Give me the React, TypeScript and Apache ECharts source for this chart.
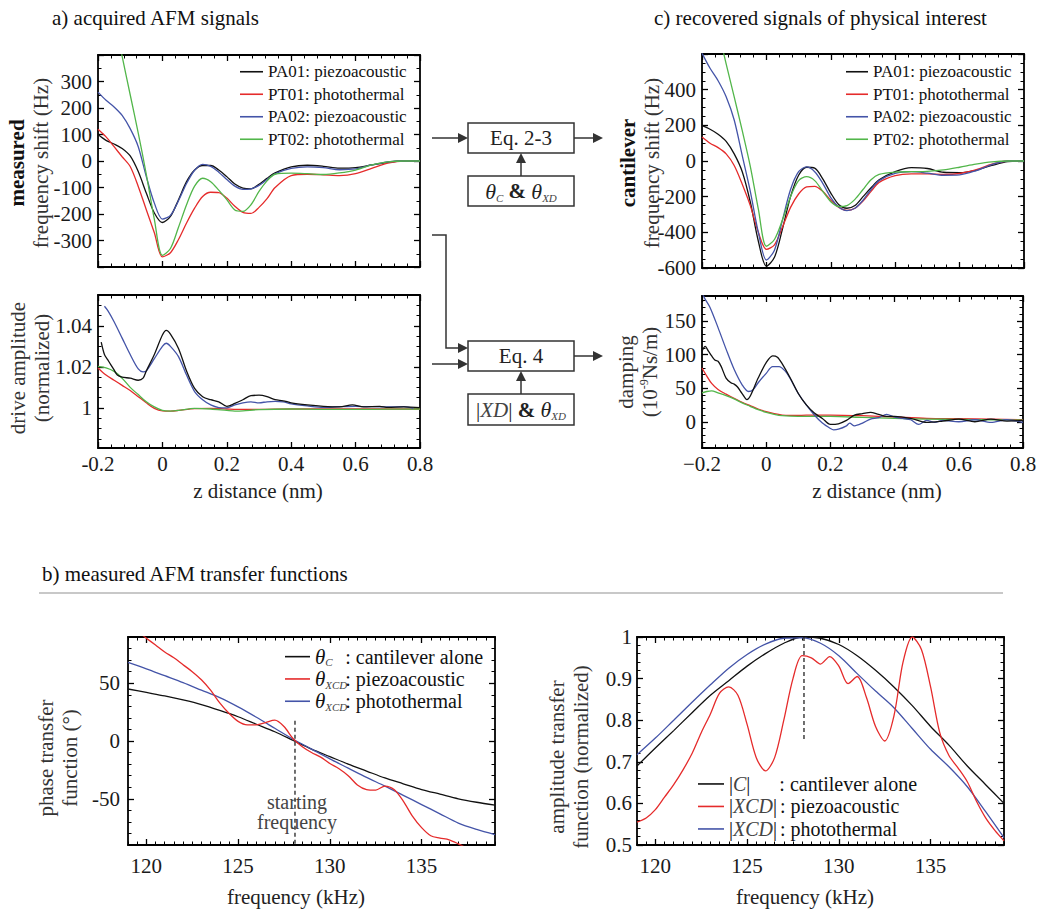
import React, { useEffect, useRef } from "react";
import * as echarts from "echarts";

const SERIF = '"Liberation Serif", "Times New Roman", "DejaVu Serif", serif';
const INK = "#111111";
const RED = "#e52b2b";
const BLUE = "#4454a8";
const GREEN = "#52b64a";

// ---------- panel a/c: z distance samples (nm)
const zTop = [-0.2, -0.175, -0.15, -0.125, -0.1, -0.075, -0.05, -0.025, 0, 0.025, 0.05, 0.075, 0.1, 0.125, 0.15, 0.175, 0.2, 0.225, 0.25, 0.275, 0.3, 0.325, 0.35, 0.4, 0.45, 0.5, 0.55, 0.6, 0.65, 0.7, 0.75, 0.8];

// measured frequency shift (Hz)
const measPA01 = [100, 78, 64, 47, 19, -40, -121, -196, -232, -209, -146, -78, -34, -17, -17, -34, -59, -87, -102, -105, -88, -65, -45, -22, -16, -20, -27, -25, -15, -5, 0, 0];
const measPT01 = [120, 91, 54, 16, -21, -96, -184, -271, -362, -346, -296, -234, -178, -134, -118, -119, -140, -171, -194, -198, -175, -142, -100, -55, -50, -52, -55, -48, -28, -8, 0, 0];
const measPA02 = [260, 229, 204, 172, 122, 54, -59, -159, -219, -205, -150, -85, -35, -13, -20, -42, -70, -95, -107, -105, -92, -70, -48, -28, -22, -25, -33, -30, -15, -3, 0, 0];
const measPT02 = [850, 700, 545, 395, 250, 105, -50, -220, -356, -330, -250, -165, -95, -65, -78, -110, -146, -185, -190, -165, -115, -75, -50, -46, -48, -51, -45, -34, -15, -3, 0, 0];

// cantilever frequency shift (Hz)
const cantPA01 = [198, 178, 150, 110, 40, -60, -230, -450, -590, -540, -380, -200, -80, -35, -40, -100, -180, -245, -265, -250, -200, -150, -106, -60, -37, -42, -63, -65, -52, -25, -3, 0];
const cantPT01 = [135, 100, 75, 40, -25, -130, -250, -400, -495, -470, -370, -260, -185, -145, -142, -170, -220, -260, -277, -265, -225, -170, -120, -82, -72, -72, -75, -70, -50, -18, 0, 0];
const cantPA02 = [605, 520, 450, 360, 230, 30, -170, -400, -555, -500, -330, -160, -60, -33, -60, -125, -205, -258, -278, -265, -220, -160, -110, -70, -60, -68, -80, -78, -55, -20, 0, 0];
const cantPT02 = [1150, 960, 740, 545, 360, 170, -30, -270, -478, -440, -330, -200, -110, -88, -110, -170, -228, -255, -250, -215, -160, -105, -75, -62, -60, -58, -50, -35, -18, -5, 0, 0];

// drive amplitude (normalized), [z, value]
const drivePA01 = [[-0.19, 1.032], [-0.18, 1.026], [-0.17, 1.0235], [-0.16, 1.021], [-0.15, 1.0185], [-0.14, 1.016], [-0.125, 1.015], [-0.1, 1.0145], [-0.075, 1.0135], [-0.06, 1.0145], [-0.05, 1.018], [-0.025, 1.026], [0, 1.0355], [0.012, 1.0378], [0.025, 1.036], [0.05, 1.029], [0.075, 1.018], [0.1, 1.0095], [0.125, 1.0055], [0.15, 1.004], [0.175, 1.003], [0.2, 1.0008], [0.225, 1.0022], [0.25, 1.004], [0.275, 1.006], [0.3, 1.0062], [0.325, 1.0055], [0.35, 1.004], [0.375, 1.0035], [0.4, 1.0025], [0.45, 1.0015], [0.5, 1.0008], [0.55, 1.0005], [0.59, 1.0015], [0.625, 1.0005], [0.675, 1.0008], [0.7, 1.0003], [0.75, 1.0005], [0.8, 1.0002]];
const drivePT01 = [[-0.2, 1.0195], [-0.175, 1.016], [-0.15, 1.0135], [-0.125, 1.011], [-0.1, 1.0085], [-0.075, 1.0055], [-0.05, 1.0025], [-0.025, 0.9998], [0, 0.9986], [0.025, 0.9985], [0.05, 0.9988], [0.1, 0.9997], [0.15, 0.9998], [0.2, 0.9995], [0.25, 0.9993], [0.3, 0.9993], [0.4, 0.9995], [0.5, 0.9995], [0.6, 0.9995], [0.7, 0.9995], [0.8, 0.9995]];
const drivePA02 = [[-0.18, 1.0495], [-0.17, 1.0475], [-0.15, 1.042], [-0.125, 1.034], [-0.1, 1.026], [-0.075, 1.019], [-0.06, 1.0176], [-0.05, 1.018], [-0.025, 1.024], [0, 1.03], [0.012, 1.0315], [0.025, 1.03], [0.05, 1.025], [0.075, 1.016], [0.1, 1.008], [0.125, 1.004], [0.15, 1.0015], [0.175, 1.0002], [0.2, 1.0], [0.225, 1.0015], [0.25, 1.0025], [0.275, 1.003], [0.3, 1.0025], [0.325, 1.003], [0.35, 1.0032], [0.375, 1.003], [0.4, 1.002], [0.45, 1.001], [0.5, 1.0003], [0.55, 1.0006], [0.6, 1.0008], [0.65, 1.0006], [0.7, 1.0005], [0.75, 1.0006], [0.78, 0.9998]];
const drivePT02 = [[-0.2, 1.0202], [-0.175, 1.0195], [-0.15, 1.0178], [-0.125, 1.0145], [-0.1, 1.01], [-0.075, 1.0065], [-0.05, 1.003], [-0.025, 1.0005], [0, 0.9988], [0.025, 0.9985], [0.05, 0.9988], [0.1, 0.9998], [0.15, 0.9995], [0.2, 0.9988], [0.225, 0.9985], [0.25, 0.9986], [0.3, 0.9992], [0.4, 0.9995], [0.5, 0.9993], [0.6, 0.9993], [0.7, 0.9994], [0.8, 0.9995]];

// damping (1e-9 Ns/m), [z, value]
const dampPA01 = [[-0.2, 105], [-0.19, 112], [-0.18, 105], [-0.17, 98], [-0.16, 92], [-0.15, 90], [-0.14, 82], [-0.125, 65], [-0.11, 58], [-0.1, 56], [-0.09, 52], [-0.075, 42], [-0.06, 33], [-0.05, 38], [-0.025, 65], [0, 88], [0.02, 98], [0.035, 96], [0.05, 86], [0.075, 65], [0.1, 42], [0.125, 25], [0.15, 13], [0.175, 5], [0.2, -4], [0.225, -3], [0.25, 2], [0.275, 10], [0.3, 12], [0.325, 14], [0.35, 11], [0.375, 8], [0.4, 8], [0.45, 5], [0.5, -1], [0.55, 1], [0.6, 4], [0.65, 0], [0.7, 4], [0.75, 1], [0.8, 2]];
const dampPT01 = [[-0.2, 80], [-0.185, 68], [-0.17, 57], [-0.15, 48], [-0.125, 41], [-0.1, 35], [-0.075, 29], [-0.05, 24], [-0.025, 19], [0, 15], [0.025, 12], [0.05, 10], [0.075, 9.5], [0.1, 9.5], [0.15, 10], [0.2, 10], [0.3, 9], [0.4, 7], [0.5, 5], [0.6, 4.5], [0.7, 4], [0.8, 3]];
const dampPA02 = [[-0.2, 192], [-0.19, 182], [-0.175, 170], [-0.15, 140], [-0.125, 108], [-0.1, 78], [-0.075, 55], [-0.055, 45], [-0.04, 48], [-0.025, 58], [0, 72], [0.02, 82], [0.04, 82], [0.06, 75], [0.075, 64], [0.1, 42], [0.125, 25], [0.15, 10], [0.175, -2], [0.2, -10], [0.21, -12], [0.225, -11], [0.25, -6], [0.26, -2], [0.275, -6], [0.3, -2], [0.325, 4], [0.35, 6], [0.375, 11], [0.4, 7], [0.425, 5], [0.45, 3], [0.475, -4], [0.5, 2], [0.525, -1], [0.55, 2], [0.6, 0], [0.65, 3], [0.7, -1], [0.75, 3], [0.8, -1]];
const dampPT02 = [[-0.2, 43], [-0.185, 45], [-0.17, 46], [-0.15, 43], [-0.125, 39], [-0.1, 34], [-0.075, 28], [-0.05, 23], [-0.025, 18], [0, 14], [0.025, 11], [0.05, 9], [0.1, 8], [0.15, 8], [0.2, 8], [0.3, 6.5], [0.4, 5], [0.5, 4], [0.6, 3.5], [0.7, 3], [0.8, 2.5]];

// ---------- panel b: frequency (kHz)
const fInt = [119, 120, 121, 122, 123, 124, 125, 126, 127, 128, 129, 130, 131, 132, 133, 134, 135, 136, 137, 138, 139];
const fHalf = [119, 119.5, 120, 120.5, 121, 121.5, 122, 122.5, 123, 123.5, 124, 124.5, 125, 125.5, 126, 126.5, 127, 127.5, 128, 128.5, 129, 129.5, 130, 130.5, 131, 131.5, 132, 132.5, 133, 133.5, 134, 134.5, 135, 135.5, 136, 136.5, 137, 137.5, 138, 138.5, 139];

const phaseC = [45, 42, 39, 35.5, 31.5, 26.5, 21, 14.5, 8, 0.5, -7, -13.5, -20, -26, -32, -37, -42, -46, -50, -53, -55.5];
const phasePT = [68, 62.5, 56.5, 50.5, 44, 37.5, 29.5, 20.5, 11, 1.5, -7, -15.5, -23.5, -31.5, -39, -47, -55, -63, -71, -76.5, -81];
const phasePA = [100, 95, 89, 83, 77, 72, 66, 60, 53, 44, 33, 24, 17, 14, 14, 16, 18, 12.5, 2, -5, -10, -14, -19.5, -24, -30, -38, -42, -42.5, -39, -42, -52, -65, -75, -82, -84, -85.5, -89, -93, -96, -98, -100];

const ampC = [0.69, 0.733, 0.775, 0.818, 0.86, 0.895, 0.93, 0.96, 0.985, 1.0, 0.997, 0.982, 0.955, 0.92, 0.88, 0.835, 0.785, 0.74, 0.69, 0.645, 0.6];
const ampPT = [0.717, 0.757, 0.8, 0.843, 0.885, 0.925, 0.958, 0.983, 0.997, 0.998, 0.985, 0.955, 0.912, 0.87, 0.83, 0.78, 0.73, 0.688, 0.64, 0.58, 0.518];
const ampPA = [0.555, 0.565, 0.585, 0.615, 0.645, 0.68, 0.72, 0.77, 0.815, 0.865, 0.88, 0.86, 0.79, 0.71, 0.678, 0.71, 0.8, 0.9, 0.955, 0.95, 0.935, 0.953, 0.93, 0.888, 0.905, 0.855, 0.785, 0.75, 0.81, 0.94, 1.0, 0.97, 0.88, 0.77, 0.715, 0.685, 0.652, 0.605, 0.565, 0.535, 0.51];

const startFreq = 128.1;
const phaseMarker = [[startFreq, 17.5], [startFreq, -90]];
const ampMarker = [[startFreq, 1.0], [startFreq, 0.755]];

// tick values
const zMajor = [-0.2, 0, 0.2, 0.4, 0.6, 0.8];
const measMajor = [-400, -300, -200, -100, 0, 100, 200, 300, 400];
const measLabels = [-300, -200, -100, 0, 100, 200, 300];
const cantMajor = [-600, -400, -200, 0, 200, 400, 600];
const cantLabels = [-600, -400, -200, 0, 200, 400];
const driveMajor = [1, 1.02, 1.04];
const dampMajor = [0, 50, 100, 150];
const fMajor = [120, 125, 130, 135];
const phaseMajor = [-50, 0, 50];
const ampMajor = [0.5, 0.6, 0.7, 0.8, 0.9, 1];

type Spec = { min: number; max: number; major: number[]; minorStep: number; labels?: number[]; fmt?: (v: number) => string; margin?: number };

function stepTicks(min: number, max: number, step: number): number[] {
  const out: number[] = [];
  const start = Math.ceil(min / step - 1e-9);
  const end = Math.floor(max / step + 1e-9);
  for (let k = start; k <= end; k++) out.push(Math.round(k * step * 1e6) / 1e6);
  return out;
}

function axes(dim: "x" | "y", grid: number, s: Spec): any[] {
  const p0 = dim === "x" ? "bottom" : "left";
  const p1 = dim === "x" ? "top" : "right";
  const common = { type: "value", gridIndex: grid, min: s.min, max: s.max, splitLine: { show: false }, splitArea: { show: false }, axisPointer: { show: false } };
  const frame = { show: true, onZero: false, lineStyle: { color: "#000", width: 1.8 } };
  const major = s.major.filter((v) => v >= s.min - 1e-9 && v <= s.max + 1e-9);
  const minor = stepTicks(s.min, s.max, s.minorStep);
  const majTick = { show: true, inside: true, length: 6, customValues: major, lineStyle: { color: "#000", width: 1.3 } };
  const minTick = { show: true, inside: true, length: 3.5, customValues: minor, lineStyle: { color: "#000", width: 1 } };
  const noLabel = { show: false };
  let label: any = noLabel;
  if (s.labels) {
    label = { show: true, customValues: s.labels, fontFamily: SERIF, fontSize: 21, color: "#1a1a1a", margin: s.margin ?? 6 };
    if (s.fmt) label.formatter = s.fmt;
  }
  return [
    { ...common, position: p0, axisLine: frame, axisTick: majTick, axisLabel: label },
    { ...common, position: p0, axisLine: { show: false, onZero: false }, axisTick: minTick, axisLabel: noLabel },
    { ...common, position: p1, axisLine: frame, axisTick: majTick, axisLabel: noLabel },
    { ...common, position: p1, axisLine: { show: false, onZero: false }, axisTick: minTick, axisLabel: noLabel },
  ];
}

const minusFmt = (v: number) => (v < 0 ? "\u2212" + String(-v) : String(v));

function line(name: string, color: string, data: number[][], g: number, extra: any = {}) {
  return {
    type: "line", name, data, xAxisIndex: 4 * g, yAxisIndex: 4 * g,
    showSymbol: false, symbol: "none", smooth: 0.3, clip: true, color,
    itemStyle: { color }, lineStyle: { color, width: 1.3 }, emphasis: { disabled: true }, ...extra,
  };
}
const pairs = (xs: number[], ys: number[]) => xs.map((x, i) => [x, ys[i]]);

function txt(text: string, x: number, y: number, extra: any = {}) {
  return { type: "text", x, y, z: 50, style: { text, fontFamily: SERIF, fontSize: 21, fill: INK, align: "left", verticalAlign: "middle", ...extra } };
}
function vtxt(text: string, x: number, y: number, rich: any) {
  return { type: "text", x, y, rotation: Math.PI / 2, z: 50, style: { text, fontFamily: SERIF, fontSize: 21, fill: "#333", align: "center", verticalAlign: "middle", rich } };
}
const AR = "#333333";
function hArrow(x1: number, y: number, x2: number) {
  return [
    { type: "line", z: 50, shape: { x1, y1: y, x2: x2 - 9, y2: y }, style: { stroke: AR, lineWidth: 1.5 } },
    { type: "polygon", z: 50, shape: { points: [[x2 - 10, y - 5], [x2, y], [x2 - 10, y + 5]] }, style: { fill: AR } },
  ];
}
function upArrow(x: number, yFrom: number, yTo: number) {
  return [
    { type: "line", z: 50, shape: { x1: x, y1: yFrom, x2: x, y2: yTo + 9 }, style: { stroke: AR, lineWidth: 1.5 } },
    { type: "polygon", z: 50, shape: { points: [[x - 5, yTo + 10], [x, yTo], [x + 5, yTo + 10]] }, style: { fill: AR } },
  ];
}
function box(x: number, y: number, w: number, h: number) {
  return { type: "rect", z: 50, shape: { x, y, width: w, height: h }, style: { fill: "transparent", stroke: AR, lineWidth: 1.5 } };
}

const nameRich = {
  b: { fontWeight: "bold", fontSize: 21, fontFamily: SERIF, fill: INK, lineHeight: 24 },
  n: { fontSize: 21, fontFamily: SERIF, fill: "#333", lineHeight: 24 },
  sup: { fontSize: 12, fontFamily: SERIF, fill: "#333", lineHeight: 10, verticalAlign: "top" },
};
const mathRich = {
  e: { fontSize: 21, fontFamily: SERIF, fill: "#222", lineHeight: 24 },
  th: { fontStyle: "italic", fontSize: 22, fontFamily: SERIF, fill: "#222", lineHeight: 24 },
  sb: { fontStyle: "italic", fontSize: 11, fontFamily: SERIF, fill: "#444", lineHeight: 10, verticalAlign: "bottom" },
  amp: { fontWeight: "bold", fontSize: 21, fontFamily: SERIF, fill: "#222", lineHeight: 24 },
  cal: { fontStyle: "italic", fontSize: 21, fontFamily: SERIF, fill: "#444", lineHeight: 24 },
};

const topLegendNames = ["PA01: piezoacoustic", "PT01: photothermal", "PA02: piezoacoustic", "PT02: photothermal"];
const phaseLegend: Record<string, string> = {
  thC: "{th|\u03b8}{sb|C}: cantilever alone",
  thPA: "{th|\u03b8}{sb|XCD}: piezoacoustic",
  thPT: "{th|\u03b8}{sb|XCD}: photothermal",
};
const ampLegend: Record<string, string> = {
  ampC: "{bar||}{cal|C}{bar||}{g1| }: cantilever alone",
  ampPA: "{bar||}{cal|XCD}{bar||}{g2| }: piezoacoustic",
  ampPT: "{bar||}{cal|XCD}{bar||}{g2| }: photothermal",
};

function buildOption(): any {
  const grids = [
    { left: 98, top: 55, width: 322, height: 212 },
    { left: 98, top: 295, width: 322, height: 153 },
    { left: 702, top: 54, width: 322, height: 214 },
    { left: 702, top: 296, width: 321, height: 152 },
    { left: 128, top: 637, width: 367, height: 208 },
    { left: 637, top: 637, width: 367, height: 208 },
  ].map((g) => ({ ...g, containLabel: false, outerBoundsMode: "none", show: false }));

  const zTopSpec: Spec = { min: -0.2, max: 0.8, major: zMajor, minorStep: 0.04 };
  const xAxis = [
    ...axes("x", 0, zTopSpec),
    ...axes("x", 1, { ...zTopSpec, labels: zMajor, margin: 5 }),
    ...axes("x", 2, zTopSpec),
    ...axes("x", 3, { ...zTopSpec, labels: zMajor, margin: 5, fmt: minusFmt }),
    ...axes("x", 4, { min: 119, max: 139, major: fMajor, minorStep: 0.5, labels: fMajor, margin: 10 }),
    ...axes("x", 5, { min: 119, max: 139, major: fMajor, minorStep: 0.5, labels: fMajor, margin: 10 }),
  ];
  const yAxis = [
    ...axes("y", 0, { min: -400, max: 400, major: measMajor, minorStep: 50, labels: measLabels }),
    ...axes("y", 1, { min: 0.9805, max: 1.055, major: driveMajor, minorStep: 0.005, labels: driveMajor }),
    ...axes("y", 2, { min: -600, max: 600, major: cantMajor, minorStep: 50, labels: cantLabels }),
    ...axes("y", 3, { min: -39, max: 187, major: dampMajor, minorStep: 10, labels: dampMajor }),
    ...axes("y", 4, { min: -90, max: 90, major: phaseMajor, minorStep: 10, labels: phaseMajor, margin: 8 }),
    ...axes("y", 5, { min: 0.5, max: 1, major: ampMajor, minorStep: 0.02, labels: ampMajor, margin: 5 }),
  ];

  const series = [
    line("PA01: piezoacoustic", INK, pairs(zTop, measPA01), 0),
    line("PT01: photothermal", RED, pairs(zTop, measPT01), 0),
    line("PA02: piezoacoustic", BLUE, pairs(zTop, measPA02), 0),
    line("PT02: photothermal", GREEN, pairs(zTop, measPT02), 0),

    line("drive PT01", RED, drivePT01, 1),
    line("drive PT02", GREEN, drivePT02, 1),
    line("drive PA02", BLUE, drivePA02, 1),
    line("drive PA01", INK, drivePA01, 1),

    line("PA01: piezoacoustic", INK, pairs(zTop, cantPA01), 2),
    line("PT01: photothermal", RED, pairs(zTop, cantPT01), 2),
    line("PA02: piezoacoustic", BLUE, pairs(zTop, cantPA02), 2),
    line("PT02: photothermal", GREEN, pairs(zTop, cantPT02), 2),

    line("damp PT01", RED, dampPT01, 3),
    line("damp PT02", GREEN, dampPT02, 3),
    line("damp PA02", BLUE, dampPA02, 3),
    line("damp PA01", INK, dampPA01, 3),

    line("thC", INK, pairs(fInt, phaseC), 4),
    line("thPT", BLUE, pairs(fInt, phasePT), 4),
    line("thPA", RED, pairs(fHalf, phasePA), 4),
    line("phase start", "#222", phaseMarker, 4, { smooth: false, lineStyle: { color: "#222", width: 1.3, type: [4, 3] } }),

    line("ampC", INK, pairs(fInt, ampC), 5),
    line("ampPT", BLUE, pairs(fInt, ampPT), 5),
    line("ampPA", RED, pairs(fHalf, ampPA), 5),
    line("amp start", "#222", ampMarker, 5, { smooth: false, lineStyle: { color: "#222", width: 1.3, type: [4, 3] } }),
  ];

  const legBase = { orient: "vertical", icon: "rect", itemHeight: 1.6, itemGap: 0, padding: 0, selectedMode: false };
  const legend = [
    { ...legBase, data: topLegendNames, left: 240, top: 60.5, itemWidth: 23, textStyle: { fontFamily: SERIF, fontSize: 17, color: INK, lineHeight: 22.5 } },
    { ...legBase, data: topLegendNames, left: 846, top: 60.5, itemWidth: 22, textStyle: { fontFamily: SERIF, fontSize: 17, color: INK, lineHeight: 22.5 } },
    {
      ...legBase, data: ["thC", "thPA", "thPT"], left: 285, top: 645.5, itemWidth: 25,
      formatter: (n: string) => phaseLegend[n],
      textStyle: {
        fontFamily: SERIF, fontSize: 20, color: INK, lineHeight: 22.3,
        rich: {
          th: { fontStyle: "italic", fontSize: 21, fontFamily: SERIF, color: INK, lineHeight: 22.3 },
          sb: { fontStyle: "italic", fontSize: 11, fontFamily: SERIF, color: "#444", lineHeight: 10, verticalAlign: "bottom", width: 20 },
        },
      },
    },
    {
      ...legBase, data: ["ampC", "ampPA", "ampPT"], left: 698, top: 772.7, itemWidth: 26,
      formatter: (n: string) => ampLegend[n],
      textStyle: {
        fontFamily: SERIF, fontSize: 20, color: INK, lineHeight: 22.5,
        rich: {
          bar: { fontSize: 20, fontFamily: SERIF, color: INK, lineHeight: 22.5 },
          cal: { fontStyle: "italic", fontSize: 20, fontFamily: SERIF, color: "#444", lineHeight: 22.5 },
          g1: { width: 29, lineHeight: 22.5 },
          g2: { width: 3, lineHeight: 22.5 },
        },
      },
    },
  ];

  const graphic = [
    txt("a) acquired AFM signals", 52, 18),
    txt("c) recovered signals of physical interest", 654, 18),
    txt("b) measured AFM transfer functions", 42, 574),
    { type: "line", z: 40, shape: { x1: 39, y1: 593, x2: 1003, y2: 593 }, style: { stroke: "#c8c8c8", lineWidth: 2 } },

    vtxt("{b|measured}\n{n|frequency shift (Hz)}", 29, 163, nameRich),
    vtxt("{n|drive amplitude}\n{n|(normalized)}", 30, 368, nameRich),
    vtxt("{b|cantilever}\n{n|frequency shift (Hz)}", 640, 163, nameRich),
    vtxt("{n|damping}\n{n|(10}{sup|-9}{n|Ns/m)}", 637.5, 372, nameRich),
    vtxt("{n|phase transfer}\n{n|function (\u00b0)}", 58, 758, nameRich),
    vtxt("{n|amplitude transfer}\n{n|function (normalized)}", 568.5, 757, nameRich),

    txt("z distance (nm)", 258, 491, { align: "center", fill: "#222" }),
    txt("z distance (nm)", 877, 491, { align: "center", fill: "#222" }),
    txt("frequency (kHz)", 296, 897, { align: "center", fill: "#222" }),
    txt("frequency (kHz)", 805, 897, { align: "center", fill: "#222" }),

    txt("starting", 297, 802, { align: "center", fontSize: 20, fill: "#444" }),
    txt("frequency", 297, 822, { align: "center", fontSize: 20, fill: "#444" }),

    // flow chart
    ...hArrow(432, 138, 468),
    box(468, 123, 106, 30),
    txt("Eq. 2-3", 521, 138, { align: "center", fill: "#222" }),
    ...hArrow(574, 138, 603),
    box(468, 176, 106, 30),
    { type: "text", x: 521, y: 191, z: 50, style: { text: "{th|\u03b8}{sb|C} {amp|&} {th|\u03b8}{sb|XD}", align: "center", verticalAlign: "middle", fontFamily: SERIF, fontSize: 21, fill: "#222", rich: mathRich } },
    ...upArrow(521, 176, 153),

    { type: "polyline", z: 50, shape: { points: [[432, 235], [446, 235], [446, 348], [459, 348]] }, style: { stroke: AR, lineWidth: 1.5, fill: "none" } },
    { type: "polygon", z: 50, shape: { points: [[458, 343], [468, 348], [458, 353]] }, style: { fill: AR } },
    ...hArrow(432, 364, 468),
    box(468, 341, 106, 30),
    txt("Eq. 4", 521, 356, { align: "center", fill: "#222" }),
    ...hArrow(574, 356, 603),
    box(468, 394, 106, 31),
    { type: "text", x: 521, y: 409.5, z: 50, style: { text: "{e||}{cal|XD}{e||} {amp|&} {th|\u03b8}{sb|XD}", align: "center", verticalAlign: "middle", fontFamily: SERIF, fontSize: 21, fill: "#222", rich: mathRich } },
    ...upArrow(521, 394, 371),
  ];

  return {
    animation: false,
    backgroundColor: "#ffffff",
    textStyle: { fontFamily: SERIF },
    grid: grids,
    xAxis,
    yAxis,
    legend,
    series,
    graphic,
  };
}

export default function App() {
  const ref = useRef<HTMLDivElement>(null);
  useEffect(() => {
    document.body.style.margin = "0";
    if (!ref.current) return;
    const chart = echarts.init(ref.current, undefined, { renderer: "svg" });
    chart.setOption(buildOption());
    return () => chart.dispose();
  }, []);
  return <div ref={ref} style={{ width: 1037, height: 909, background: "#fff" }} />;
}
